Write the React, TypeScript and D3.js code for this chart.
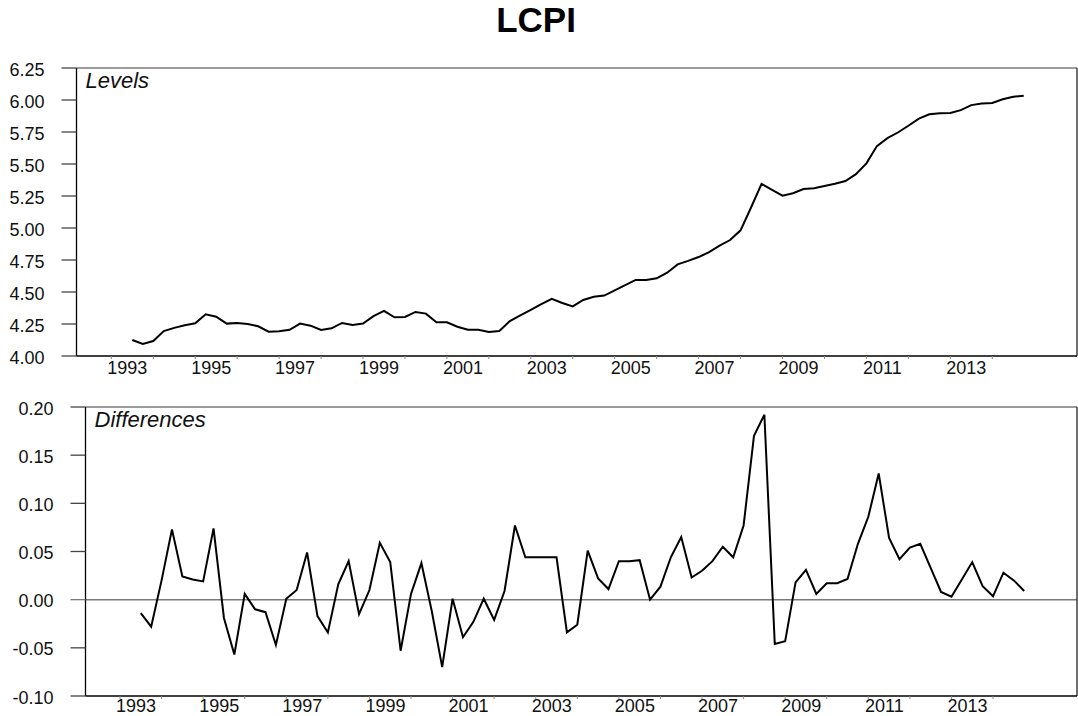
import React from "react";
import * as d3 from "d3";

// Quarterly periods, 1993Q3 .. 2014Q4
const periods: string[] = [
  "1993Q3","1993Q4",
  "1994Q1","1994Q2","1994Q3","1994Q4",
  "1995Q1","1995Q2","1995Q3","1995Q4",
  "1996Q1","1996Q2","1996Q3","1996Q4",
  "1997Q1","1997Q2","1997Q3","1997Q4",
  "1998Q1","1998Q2","1998Q3","1998Q4",
  "1999Q1","1999Q2","1999Q3","1999Q4",
  "2000Q1","2000Q2","2000Q3","2000Q4",
  "2001Q1","2001Q2","2001Q3","2001Q4",
  "2002Q1","2002Q2","2002Q3","2002Q4",
  "2003Q1","2003Q2","2003Q3","2003Q4",
  "2004Q1","2004Q2","2004Q3","2004Q4",
  "2005Q1","2005Q2","2005Q3","2005Q4",
  "2006Q1","2006Q2","2006Q3","2006Q4",
  "2007Q1","2007Q2","2007Q3","2007Q4",
  "2008Q1","2008Q2","2008Q3","2008Q4",
  "2009Q1","2009Q2","2009Q3","2009Q4",
  "2010Q1","2010Q2","2010Q3","2010Q4",
  "2011Q1","2011Q2","2011Q3","2011Q4",
  "2012Q1","2012Q2","2012Q3","2012Q4",
  "2013Q1","2013Q2","2013Q3","2013Q4",
  "2014Q1","2014Q2","2014Q3","2014Q4",
];

const levels: number[] = [
  4.125, 4.094,
  4.117, 4.195, 4.220, 4.240,
  4.256, 4.326, 4.307, 4.253,
  4.258, 4.250, 4.232, 4.190,
  4.193, 4.205, 4.253, 4.237,
  4.203, 4.216, 4.258, 4.242,
  4.253, 4.312, 4.352, 4.302,
  4.305, 4.344, 4.331, 4.263,
  4.263, 4.229, 4.205, 4.205,
  4.187, 4.195, 4.273, 4.317,
  4.361, 4.405, 4.447, 4.414,
  4.388, 4.438, 4.463, 4.472,
  4.512, 4.553, 4.594, 4.594,
  4.607, 4.651, 4.716, 4.743,
  4.773, 4.811, 4.863, 4.906,
  4.982, 5.160, 5.345, 5.298,
  5.253, 5.272, 5.305, 5.310,
  5.328, 5.345, 5.367, 5.421,
  5.505, 5.640, 5.702, 5.746,
  5.799, 5.855, 5.888, 5.896,
  5.899, 5.921, 5.960, 5.973,
  5.977, 6.006, 6.025, 6.034,
];

const differences: number[] = [
  -0.014, -0.028,
  0.020, 0.073, 0.024, 0.021,
  0.019, 0.074, -0.019, -0.057,
  0.006, -0.010, -0.013, -0.047,
  0.001, 0.010, 0.049, -0.017,
  -0.034, 0.016, 0.040, -0.015,
  0.010, 0.059, 0.039, -0.053,
  0.006, 0.038, -0.012, -0.070,
  0.001, -0.039, -0.023, 0.001,
  -0.021, 0.009, 0.077, 0.044,
  0.044, 0.044, 0.044, -0.034,
  -0.026, 0.051, 0.022, 0.011,
  0.040, 0.040, 0.041, 0.000,
  0.0135, 0.044, 0.065, 0.023,
  0.030, 0.040, 0.055, 0.044,
  0.077, 0.170, 0.192, -0.046,
  -0.043, 0.018, 0.031, 0.006,
  0.017, 0.017, 0.0215, 0.058,
  0.086, 0.131, 0.064, 0.042,
  0.054, 0.058, 0.033, 0.008,
  0.003, 0.021, 0.039, 0.014,
  0.0035, 0.028, 0.020, 0.009,
];

const levelTicks: number[] = [4.0, 4.25, 4.5, 4.75, 5.0, 5.25, 5.5, 5.75, 6.0, 6.25];
const diffTicks: number[] = [-0.1, -0.05, 0.0, 0.05, 0.1, 0.15, 0.2];
const yearTicks: number[] = d3.range(1993, 2015);
const yearLabels: number[] = [1993, 1995, 1997, 1999, 2001, 2003, 2005, 2007, 2009, 2011, 2013];

const xDomain: [number, number] = [1992.17, 2016.02];

const FONT = "'Liberation Sans', Arial, Helvetica, sans-serif";

function periodToNum(p: string): number {
  const y = +p.slice(0, 4);
  const q = +p.slice(5);
  return y + (q - 1) / 4;
}

type PanelProps = {
  left: number; right: number; top: number; bottom: number;
  values: number[]; yDomain: [number, number]; ticks: number[];
  fmt: (v: number) => string; label: string; zeroLine?: boolean; labelOffset: number;
};

function Panel({ left, right, top, bottom, values, yDomain, ticks, fmt, label, zeroLine, labelOffset }: PanelProps) {
  const x = d3.scaleLinear().domain(xDomain).range([left, right]);
  const y = d3.scaleLinear().domain(yDomain).range([bottom, top]);
  const line = d3.line<number>()
    .x((_, i) => x(periodToNum(periods[i])))
    .y((d) => y(d));
  return (
    <g>
      {zeroLine && (
        <line x1={left} x2={right} y1={y(0)} y2={y(0)} stroke="#7a7a7a" strokeWidth={1.5} />
      )}
      {/* frame */}
      <line x1={left} x2={right} y1={top} y2={top} stroke="#7a7a7a" strokeWidth={1.3} />
      <line x1={right} x2={right} y1={top} y2={bottom} stroke="#222" strokeWidth={1.3} />
      <line x1={left} x2={right} y1={bottom} y2={bottom} stroke="#000" strokeWidth={1.3} />
      <line x1={left} x2={left} y1={top} y2={bottom} stroke="#000" strokeWidth={1.3} />
      {/* y ticks */}
      {ticks.map((t) => (
        <g key={t}>
          <line x1={left - 15} x2={left} y1={y(t)} y2={y(t)} stroke={t === 0 ? "#7a7a7a" : "#444"} strokeWidth={1.3} />
          <text x={left - 32} y={y(t) + 7.5} textAnchor="end" fontFamily={FONT} fontSize={18} fill="#111">
            {fmt(t)}
          </text>
        </g>
      ))}
      {/* x ticks */}
      {yearTicks.map((yr) => (
        <line key={yr} x1={x(yr)} x2={x(yr)} y1={bottom} y2={bottom + 3} stroke="#888" strokeWidth={1} />
      ))}
      {yearLabels.map((yr) => (
        <text key={yr} x={x(yr) + 16} y={bottom + labelOffset} textAnchor="middle" fontFamily={FONT} fontSize={18} fill="#111">
          {yr}
        </text>
      ))}
      <text x={left + 9} y={top + 20} fontFamily={FONT} fontSize={22} fontStyle="italic" fill="#111">
        {label}
      </text>
      <path d={line(values) || ""} fill="none" stroke="#000" strokeWidth={2} strokeLinejoin="miter" />
    </g>
  );
}

export default function App() {
  return (
    <svg
      width={1078}
      height={716}
      style={{ position: "absolute", left: 0, top: 0, background: "#fff" }}
    >
      <rect x={0} y={0} width={1078} height={716} fill="#fff" />
      <text x={536} y={31.5} textAnchor="middle" fontFamily={FONT} fontSize={35} fontWeight="bold" fill="#000">
        LCPI
      </text>
      <Panel
        left={76.5} right={1077} top={68} bottom={356}
        values={levels} yDomain={[4.0, 6.25]} ticks={levelTicks}
        fmt={(v) => v.toFixed(2)} label="Levels" labelOffset={18}
      />
      <Panel
        left={85.5} right={1077} top={407} bottom={696}
        values={differences} yDomain={[-0.1, 0.2]} ticks={diffTicks}
        fmt={(v) => v.toFixed(2)} label="Differences" zeroLine labelOffset={15.5}
      />
    </svg>
  );
}
